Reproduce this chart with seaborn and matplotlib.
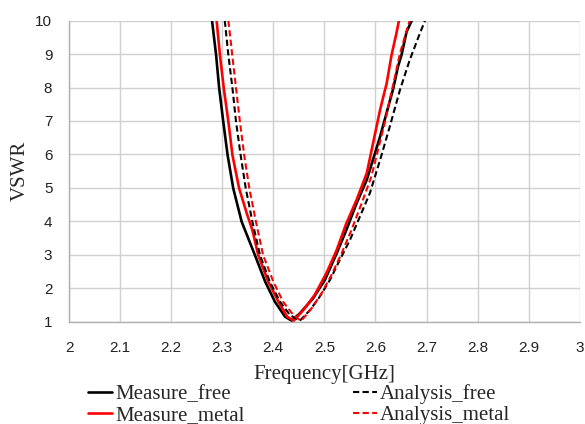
import pandas as pd
import numpy as np
import seaborn as sns
import matplotlib.pyplot as plt

# Values
measure_free_f = [2.280, 2.288, 2.294, 2.302, 2.3105, 2.3215, 2.338, 2.364, 2.384, 2.403,
                  2.423, 2.436, 2.452, 2.478, 2.501, 2.524, 2.543, 2.563, 2.583, 2.609, 2.635,
                  2.644, 2.651, 2.661, 2.671]
measure_free_v = [10.0, 8.97, 7.98, 6.98, 5.98, 4.99, 3.99, 2.99, 2.20, 1.60,
                  1.15, 1.03, 1.25, 1.70, 2.25, 3.04, 3.74, 4.54, 5.24, 6.53, 7.98,
                  8.62, 8.97, 9.67, 10.0]

measure_metal_f = [2.289, 2.2955, 2.303, 2.312, 2.320, 2.333, 2.348, 2.359, 2.3705, 2.390, 2.410,
                   2.427, 2.440, 2.459, 2.481, 2.504, 2.524, 2.543, 2.563, 2.583, 2.609, 2.622,
                   2.6315, 2.641, 2.646]
measure_metal_v = [10.0, 8.97, 7.98, 6.98, 5.98, 4.99, 4.24, 3.74, 2.99, 2.20, 1.60,
                   1.15, 1.03, 1.35, 1.80, 2.45, 3.14, 3.94, 4.64, 5.44, 7.33, 8.13,
                   8.97, 9.62, 10.0]

analysis_free_f = [2.305, 2.312, 2.320, 2.327, 2.336, 2.346, 2.359, 2.374, 2.393, 2.413, 2.4325,
                   2.449, 2.452, 2.472, 2.491, 2.511, 2.530, 2.550, 2.5695, 2.589, 2.609, 2.628,
                   2.648, 2.667, 2.687, 2.697]
analysis_free_v = [10.0, 8.97, 7.98, 6.98, 5.98, 4.99, 3.99, 2.99, 2.20, 1.60, 1.20,
                   1.05, 1.03, 1.35, 1.75, 2.25, 2.84, 3.44, 4.14, 4.84, 5.83, 6.83,
                   7.93, 8.82, 9.62, 10.0]

analysis_metal_f = [2.312, 2.3196, 2.327, 2.3346, 2.343, 2.353, 2.366, 2.380, 2.400, 2.419, 2.439,
                    2.452, 2.455, 2.475, 2.4945, 2.514, 2.5336, 2.553, 2.573, 2.592, 2.618, 2.628,
                    2.638, 2.648, 2.6575, 2.667]
analysis_metal_v = [10.0, 8.97, 7.98, 6.98, 5.98, 4.99, 3.99, 2.99, 2.20, 1.60, 1.20,
                    1.05, 1.03, 1.40, 1.85, 2.40, 3.04, 3.74, 4.54, 5.34, 6.93, 7.63,
                    8.32, 9.02, 9.52, 10.0]

x_ticks = [2, 2.1, 2.2, 2.3, 2.4, 2.5, 2.6, 2.7, 2.8, 2.9, 3]
x_tick_labels = ["2", "2.1", "2.2", "2.3", "2.4", "2.5", "2.6", "2.7", "2.8", "2.9", "3"]
y_ticks = list(range(1, 11))

series = [
    ("Measure_free", measure_free_f, measure_free_v, "black", "-", 1.9),
    ("Measure_metal", measure_metal_f, measure_metal_v, "red", "-", 1.9),
    ("Analysis_free", analysis_free_f, analysis_free_v, "black", "--", 1.5),
    ("Analysis_metal", analysis_metal_f, analysis_metal_v, "red", "--", 1.5),
]

sns.set_style("white")
plt.rcParams["font.family"] = ["Liberation Sans", "DejaVu Sans"]

fig = plt.figure(figsize=(5.85, 4.24), dpi=100)
ax = fig.add_axes([0.118, 0.2413, 0.873, 0.71])

for name, f, v, color, ls, lw in series:
    df = pd.DataFrame({"f": f, "v": v})
    sns.lineplot(data=df, x="f", y="v", ax=ax, color=color, linewidth=lw,
                 estimator=None, sort=False, label=name)
    if ls == "--":
        ax.lines[-1].set_dashes((3, 1.6))

ax.set_xlim(2, 3)
ax.set_ylim(1, 10)
ax.set_xticks(x_ticks)
ax.set_xticklabels(x_tick_labels)
ax.set_yticks(y_ticks)
ax.tick_params(axis="both", length=0, labelsize=11, colors="#222222")
ax.tick_params(axis="x", pad=14)
ax.tick_params(axis="y", pad=12)
ax.grid(True, color="#d0d0d0", linewidth=1.0)
for side in ["top", "right"]:
    ax.spines[side].set_visible(False)
for side in ["left", "bottom"]:
    ax.spines[side].set_color("#b0b0b0")
    ax.spines[side].set_linewidth(1.0)

ax.set_xlabel("Frequency[GHz]", fontfamily="Liberation Serif", fontsize=15, labelpad=7)
ax.set_ylabel("VSWR", fontfamily="Liberation Serif", fontsize=15, labelpad=4)

ax.legend(loc="upper left", bbox_to_anchor=(88 / 585, 0.094), bbox_transform=fig.transFigure,
          ncol=2, frameon=False, prop={"family": "Liberation Serif", "size": 15},
          handlelength=1.15, handletextpad=0.15, columnspacing=5.2, labelspacing=0.08,
          borderpad=0, borderaxespad=0)

fig.savefig("out.png", dpi=100)
